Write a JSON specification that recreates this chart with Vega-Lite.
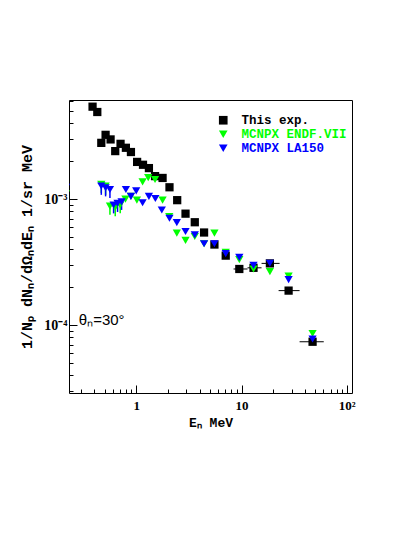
{
  "$schema": "https://vega.github.io/schema/vega-lite/v6.json",
  "width": 283,
  "height": 293,
  "autosize": "none",
  "padding": {"left": 69, "top": 100, "right": 62, "bottom": 142},
  "background": "white",
  "config": {
    "view": {"stroke": "black", "strokeWidth": 1},
    "axis": {"grid": false, "domain": false, "tickColor": "black", "labelColor": "black", "titleColor": "black", "tickWidth": 1}
  },
  "datasets": {
    "pts": [
      {"s": "This exp.", "E": 0.385, "v": 0.0054},
      {"s": "This exp.", "E": 0.427, "v": 0.0049},
      {"s": "This exp.", "E": 0.466, "v": 0.00279},
      {"s": "This exp.", "E": 0.512, "v": 0.00323},
      {"s": "This exp.", "E": 0.571, "v": 0.00297},
      {"s": "This exp.", "E": 0.632, "v": 0.0024},
      {"s": "This exp.", "E": 0.71, "v": 0.00274},
      {"s": "This exp.", "E": 0.798, "v": 0.00255},
      {"s": "This exp.", "E": 0.891, "v": 0.00236},
      {"s": "This exp.", "E": 1.02, "v": 0.00197},
      {"s": "This exp.", "E": 1.16, "v": 0.00187},
      {"s": "This exp.", "E": 1.32, "v": 0.00176},
      {"s": "This exp.", "E": 1.51, "v": 0.00152},
      {"s": "This exp.", "E": 1.78, "v": 0.00147},
      {"s": "This exp.", "E": 2.07, "v": 0.00124},
      {"s": "This exp.", "E": 2.45, "v": 0.00098},
      {"s": "This exp.", "E": 2.94, "v": 0.000766},
      {"s": "This exp.", "E": 3.6, "v": 0.000655},
      {"s": "This exp.", "E": 4.41, "v": 0.000543},
      {"s": "This exp.", "E": 5.53, "v": 0.000436},
      {"s": "This exp.", "E": 7.08, "v": 0.000356},
      {"s": "This exp.", "E": 9.53, "v": 0.000279, "xlo": 8.4, "xhi": 11.4},
      {"s": "This exp.", "E": 13.0, "v": 0.000285, "xlo": 11.4, "xhi": 15.5},
      {"s": "This exp.", "E": 18.6, "v": 0.000309, "xlo": 15.5, "xhi": 23.0},
      {"s": "This exp.", "E": 28.0, "v": 0.000188, "xlo": 22.5, "xhi": 35.6},
      {"s": "This exp.", "E": 47.3, "v": 0.0000739, "xlo": 35.6, "xhi": 60.4},
      {"s": "MCNPX ENDF.VII", "E": 0.215, "v": 0.0011},
      {"s": "MCNPX ENDF.VII", "E": 0.466, "v": 0.00131, "ylo": 0.00112},
      {"s": "MCNPX ENDF.VII", "E": 0.512, "v": 0.00127, "ylo": 0.00108},
      {"s": "MCNPX ENDF.VII", "E": 0.563, "v": 0.00088, "ylo": 0.00075},
      {"s": "MCNPX ENDF.VII", "E": 0.632, "v": 0.00086, "ylo": 0.00073},
      {"s": "MCNPX ENDF.VII", "E": 0.705, "v": 0.000897, "ylo": 0.00077},
      {"s": "MCNPX ENDF.VII", "E": 0.79, "v": 0.001},
      {"s": "MCNPX ENDF.VII", "E": 0.89, "v": 0.00105},
      {"s": "MCNPX ENDF.VII", "E": 1.015, "v": 0.00098},
      {"s": "MCNPX ENDF.VII", "E": 1.15, "v": 0.00137},
      {"s": "MCNPX ENDF.VII", "E": 1.3, "v": 0.00148},
      {"s": "MCNPX ENDF.VII", "E": 1.51, "v": 0.00143},
      {"s": "MCNPX ENDF.VII", "E": 1.78, "v": 0.00098},
      {"s": "MCNPX ENDF.VII", "E": 2.06, "v": 0.000726},
      {"s": "MCNPX ENDF.VII", "E": 2.43, "v": 0.000537},
      {"s": "MCNPX ENDF.VII", "E": 2.94, "v": 0.00047},
      {"s": "MCNPX ENDF.VII", "E": 3.6, "v": 0.000505},
      {"s": "MCNPX ENDF.VII", "E": 4.41, "v": 0.000442},
      {"s": "MCNPX ENDF.VII", "E": 5.53, "v": 0.000537},
      {"s": "MCNPX ENDF.VII", "E": 7.08, "v": 0.000378},
      {"s": "MCNPX ENDF.VII", "E": 9.53, "v": 0.000331},
      {"s": "MCNPX ENDF.VII", "E": 13.0, "v": 0.000279},
      {"s": "MCNPX ENDF.VII", "E": 18.6, "v": 0.000266},
      {"s": "MCNPX ENDF.VII", "E": 28.0, "v": 0.000245},
      {"s": "MCNPX ENDF.VII", "E": 47.3, "v": 0.000086},
      {"s": "MCNPX LA150", "E": 0.215, "v": 0.00124},
      {"s": "MCNPX LA150", "E": 0.466, "v": 0.00127, "ylo": 0.00108},
      {"s": "MCNPX LA150", "E": 0.512, "v": 0.00123, "ylo": 0.00105},
      {"s": "MCNPX LA150", "E": 0.563, "v": 0.00119, "ylo": 0.00102},
      {"s": "MCNPX LA150", "E": 0.61, "v": 0.000897, "ylo": 0.00077},
      {"s": "MCNPX LA150", "E": 0.665, "v": 0.000925, "ylo": 0.00079},
      {"s": "MCNPX LA150", "E": 0.726, "v": 0.00095, "ylo": 0.00082},
      {"s": "MCNPX LA150", "E": 0.798, "v": 0.00119},
      {"s": "MCNPX LA150", "E": 0.891, "v": 0.00105},
      {"s": "MCNPX LA150", "E": 1.0, "v": 0.00116},
      {"s": "MCNPX LA150", "E": 1.15, "v": 0.000935},
      {"s": "MCNPX LA150", "E": 1.32, "v": 0.00105},
      {"s": "MCNPX LA150", "E": 1.52, "v": 0.00101},
      {"s": "MCNPX LA150", "E": 1.75, "v": 0.000819},
      {"s": "MCNPX LA150", "E": 2.07, "v": 0.000704},
      {"s": "MCNPX LA150", "E": 2.43, "v": 0.00065},
      {"s": "MCNPX LA150", "E": 2.94, "v": 0.000553},
      {"s": "MCNPX LA150", "E": 3.6, "v": 0.00052},
      {"s": "MCNPX LA150", "E": 4.41, "v": 0.000442},
      {"s": "MCNPX LA150", "E": 5.53, "v": 0.000442},
      {"s": "MCNPX LA150", "E": 7.08, "v": 0.000369},
      {"s": "MCNPX LA150", "E": 9.53, "v": 0.000345},
      {"s": "MCNPX LA150", "E": 13.0, "v": 0.000298},
      {"s": "MCNPX LA150", "E": 18.6, "v": 0.00031},
      {"s": "MCNPX LA150", "E": 28.0, "v": 0.00023},
      {"s": "MCNPX LA150", "E": 47.3, "v": 0.0000777}
    ],
    "lbl": [
      {"E": 0.285, "v": 0.00011, "t": "θₙ=30°"}
    ]
  },
  "layer": [
    {
      "data": {"name": "pts"},
      "transform": [{"filter": "isValid(datum.xlo)"}],
      "mark": {"type": "rule", "color": "black", "strokeWidth": 1},
      "encoding": {
        "x": {"field": "xlo", "type": "quantitative"},
        "x2": {"field": "xhi"},
        "y": {"field": "v", "type": "quantitative"}
      }
    },
    {
      "data": {"name": "pts"},
      "transform": [{"filter": "isValid(datum.ylo) && datum.s == 'MCNPX ENDF.VII'"}],
      "mark": {"type": "rule", "color": "#00ff00", "strokeWidth": 1.5},
      "encoding": {
        "x": {"field": "E", "type": "quantitative"},
        "y": {"field": "ylo", "type": "quantitative"},
        "y2": {"field": "v"}
      }
    },
    {
      "data": {"name": "pts"},
      "transform": [{"filter": "isValid(datum.ylo) && datum.s == 'MCNPX LA150'"}],
      "mark": {"type": "rule", "color": "#0000ff", "strokeWidth": 1.5},
      "encoding": {
        "x": {"field": "E", "type": "quantitative"},
        "y": {"field": "ylo", "type": "quantitative"},
        "y2": {"field": "v"}
      }
    },
    {
      "data": {"name": "pts"},
      "mark": {"type": "point", "filled": true, "opacity": 1, "size": 68, "clip": true},
      "encoding": {
        "x": {
          "field": "E", "type": "quantitative",
          "scale": {"type": "log", "domain": [0.23, 112], "nice": false},
          "axis": {
            "values": [0.3, 0.4, 0.5, 0.6, 0.7, 0.8, 0.9, 1, 2, 3, 4, 5, 6, 7, 8, 9, 10, 20, 30, 40, 50, 60, 70, 80, 90, 100],
            "labelExpr": "datum.value == 1 ? '1' : datum.value == 10 ? '10' : datum.value == 100 ? '10²' : ''",
            "tickSize": {"condition": {"test": "datum.value == 1 || datum.value == 10 || datum.value == 100", "value": -8}, "value": -4},
            "labelPadding": 14,
            "labelFont": "Liberation Serif", "labelFontWeight": "bold", "labelFontSize": 13,
            "labelOverlap": false, "labelFlush": false,
            "title": "Eₙ MeV",
            "titleFont": "Liberation Mono", "titleFontWeight": "bold", "titleFontSize": 13,
            "titlePadding": 0
          }
        },
        "y": {
          "field": "v", "type": "quantitative",
          "scale": {"type": "log", "domain": [0.000029, 0.0061], "nice": false},
          "axis": {
            "values": [0.00003, 0.00004, 0.00005, 0.00006, 0.00007, 0.00008, 0.00009, 0.0001, 0.0002, 0.0003, 0.0004, 0.0005, 0.0006, 0.0007, 0.0008, 0.0009, 0.001, 0.002, 0.003, 0.004, 0.005, 0.006],
            "labelExpr": "datum.value == 0.001 ? '10⁻³' : datum.value == 0.0001 ? '10⁻⁴' : ''",
            "tickSize": {"condition": {"test": "datum.value == 0.001 || datum.value == 0.0001", "value": -8}, "value": -4},
            "labelPadding": 10,
            "labelFont": "Liberation Serif", "labelFontWeight": "bold", "labelFontSize": 14,
            "labelOverlap": false, "labelFlush": false,
            "title": "1/Nₚ dNₙ/dΩₙdEₙ  1/sr  MeV",
            "titleFont": "Liberation Mono", "titleFontWeight": "bold", "titleFontSize": 15,
            "titlePadding": 9
          }
        },
        "color": {
          "field": "s", "type": "nominal",
          "scale": {"domain": ["This exp.", "MCNPX ENDF.VII", "MCNPX LA150"], "range": ["#000000", "#00ff00", "#0000ff"]},
          "legend": {
            "orient": "none", "legendX": 148, "legendY": 14, "title": null,
            "labelFont": "Liberation Mono", "labelFontWeight": "bold", "labelFontSize": 12.5,
            "labelColor": {"expr": "datum.label == 'This exp.' ? '#000000' : datum.label == 'MCNPX ENDF.VII' ? '#00ff00' : '#0000ff'"},
            "symbolSize": 75, "symbolStrokeWidth": 0, "rowPadding": 1, "labelOffset": 12, "padding": 0
          }
        },
        "shape": {
          "field": "s", "type": "nominal",
          "scale": {"domain": ["This exp.", "MCNPX ENDF.VII", "MCNPX LA150"], "range": ["square", "triangle-down", "triangle-down"]},
          "legend": null
        }
      }
    },
    {
      "data": {"name": "lbl"},
      "mark": {"type": "text", "align": "left", "baseline": "middle", "font": "Liberation Sans", "fontSize": 15, "color": "black"},
      "encoding": {
        "x": {"field": "E", "type": "quantitative"},
        "y": {"field": "v", "type": "quantitative"},
        "text": {"field": "t"}
      }
    }
  ]
}
